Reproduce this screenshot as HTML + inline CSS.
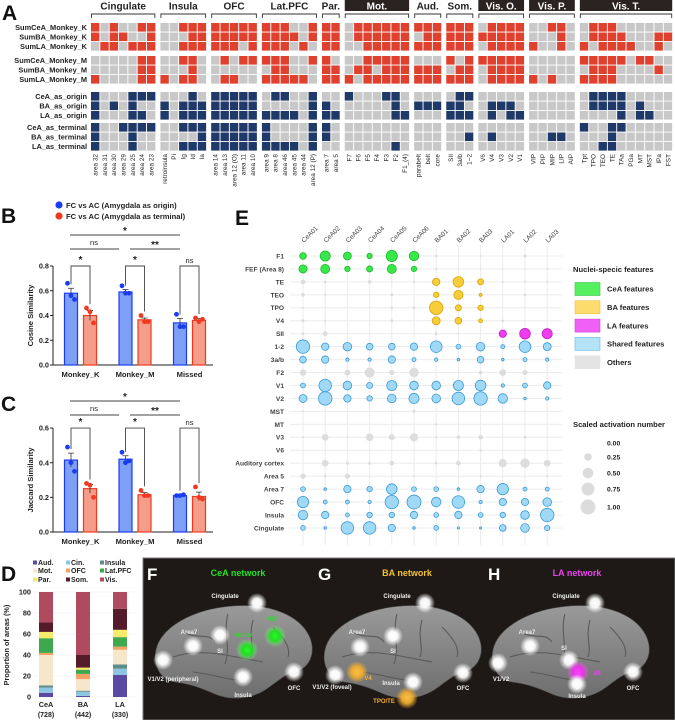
<!DOCTYPE html>
<html><head><meta charset="utf-8">
<style>
html,body{margin:0;padding:0;background:#fff;}
svg{display:block;font-family:"Liberation Sans",Arial,sans-serif;}
</style></head>
<body>
<svg id="fig" width="675" height="720" viewBox="0 0 675 720" xmlns="http://www.w3.org/2000/svg">
<defs>
<radialGradient id="glowW"><stop offset="0" stop-color="#fff" stop-opacity="1"/><stop offset="0.45" stop-color="#fff" stop-opacity="0.95"/><stop offset="1" stop-color="#fff" stop-opacity="0"/></radialGradient>
<radialGradient id="glowG"><stop offset="0" stop-color="#20ff20"/><stop offset="0.45" stop-color="#20e020" stop-opacity="0.95"/><stop offset="1" stop-color="#80ff80" stop-opacity="0"/></radialGradient>
<radialGradient id="glowY"><stop offset="0" stop-color="#ffc040"/><stop offset="0.5" stop-color="#f5b030" stop-opacity="0.9"/><stop offset="1" stop-color="#f5b030" stop-opacity="0"/></radialGradient>
<radialGradient id="glowM"><stop offset="0" stop-color="#ff40ff"/><stop offset="0.5" stop-color="#ee30ee" stop-opacity="0.9"/><stop offset="1" stop-color="#ff60ff" stop-opacity="0"/></radialGradient>
<linearGradient id="brainG" x1="0" y1="0" x2="0" y2="1"><stop offset="0" stop-color="#9a9a9a"/><stop offset="1" stop-color="#6e6e6e"/></linearGradient>
</defs>
<g id="panelA"></g>
<g id="panelB"></g>
<g id="panelC"></g>
<g id="panelD"></g>
<g id="panelE"></g>
<g id="panelF"></g>
</svg>
<script>
const NS="http://www.w3.org/2000/svg";
function mk(parent,tag,attrs,text){const e=document.createElementNS(NS,tag);for(const k in attrs)e.setAttribute(k,attrs[k]);if(text!==undefined)e.textContent=text;parent.appendChild(e);return e;}

/* ================= PANEL A data ================= */
const aGroups=["Cingulate","Insula","OFC","Lat.PFC","Par.","Mot.","Aud.","Som.","Vis. O.","Vis. P.","Vis. T."];
const aGroupCounts=[7,5,5,6,2,7,3,3,5,5,10];
const aGroupDark=[0,0,0,0,0,1,0,0,1,1,1];
const aColLabels=["area 32","area 31","area 30","area 29","area 25","area 24","area 23","retroinsula","Pi","Ig","Id","Ia","area 14","area 13","area 12 (O)","area 11","area 10","area 9","area 8","area 46","area 45","area 44","area 12 (P)","area 7","area 5","F7","F6","F5","F4","F3","F2","F1_(4)","parabelt","belt","core","SII","3a/b","1~2","V6","V4","V3","V2","V1","VIP","PIP","MIP","LIP","AIP","Tpt","TPO","TEO","TE","TAa","PGa","MT","MST","IPa","FST"];
const aRowLabels=["SumCeA_Monkey_K","SumBA_Monkey_K","SumLA_Monkey_K","SumCeA_Monkey_M","SumBA_Monkey_M","SumLA_Monkey_M","CeA_as_origin","BA_as_origin","LA_as_origin","CeA_as_terminal","BA_as_terminal","LA_as_terminal"];
const aRows=[
"1010011 00111 11111 111001 11 0111111 111 111 01111 00110 0111000000",
"1011001 00011 11111 111101 11 0111111 011 111 11111 00010 0111100011",
"0110111 00111 11101 111010 11 0011111 111 111 01111 10010 1011110010",
"0000011 00110 01011 111001 10 0011111 000 101 11111 00000 1111101100",
"0000011 00010 00000 011000 11 0110111 111 011 01111 00000 0111000010",
"1000011 10110 01100 111110 11 1011111 111 111 01111 10100 1111000000",
"1000111 00010 11111 011001 00 1000110 000 011 00000 00000 0111100000",
"1010100 10111 11111 000001 10 0000010 111 110 01110 00000 0111101000",
"1000110 10111 11111 111101 11 0000011 000 111 01011 00000 0000101100",
"1001111 00111 11111 100001 10 0000000 000 000 00000 00000 1001100000",
"1000100 00001 11111 100001 10 0000000 000 001 01000 00110 0001000000",
"1000100 00111 11111 111101 00 0000010 000 000 00000 00000 0011000000"
];
/* ================= PANEL B/C data ================= */
const bcCats=["Monkey_K","Monkey_M","Missed"];
const cosOrigin=[0.58,0.59,0.34];
const cosTerminal=[0.40,0.365,0.36];
const cosOriginErr=[0.04,0.02,0.035];
const cosTerminalErr=[0.04,0.015,0.015];
const cosOriginPts=[[0.66,0.56,0.53],[0.64,0.58,0.58],[0.41,0.31,0.31]];
const cosTerminalPts=[[0.46,0.43,0.34],[0.40,0.35,0.35],[0.38,0.35,0.37]];
const cosTicks=[0,0.2,0.4,0.6,0.8];
const jacOrigin=[0.415,0.42,0.21];
const jacTerminal=[0.25,0.215,0.205];
const jacOriginErr=[0.04,0.02,0.005];
const jacTerminalErr=[0.025,0.012,0.025];
const jacOriginPts=[[0.49,0.40,0.35],[0.46,0.40,0.41],[0.21,0.21,0.215]];
const jacTerminalPts=[[0.28,0.27,0.20],[0.24,0.21,0.21],[0.26,0.20,0.19]];
const jacTicks=[0,0.2,0.4,0.6];
/* ================= PANEL D data ================= */
const dCats=["CeA","BA","LA"];
const dCounts=["(728)","(442)","(330)"];
const dSeries=["Aud.","Cin.","Insula","Mot.","OFC","Lat.PFC","Par.","Som.","Vis."];
const dAud=[4,1,21];
const dCin=[5,4,6];
const dIns=[2,1,4];
const dMot=[29,11,14];
const dOFC=[2,5,3];
const dLat=[14,4,9];
const dPar=[6,2,7];
const dSom=[9,12,20];
const dVis=[29,60,16];
const dTicks=[0,20,40,60,80,100];
/* ================= PANEL E data ================= */
const eCols=["CeA01","CeA02","CeA03","CeA04","CeA05","CeA06","BA01","BA02","BA03","LA01","LA02","LA03"];
const eRows=["F1","FEF (Area 8)","TE","TEO","TPO","V4","SII","1-2","3a/b","F2","V1","V2","MST","MT","V3","V6","Auditory cortex","Area 5","Area 7","OFC","Insula","Cingulate"];
const eRowType=["CeA","CeA","BA","BA","BA","BA","LA","S","S","O","S","S","O","O","O","O","O","O","S","S","S","S"];
const eValues=[
[0.2,0.45,0.28,0.13,0.55,0.4,0.03,0,0.02,0,0.04,0],
[0.3,0.36,0.13,0.16,0.36,0.13,0.02,0.01,0.01,0.01,0.01,0.02],
[0.1,0.03,0,0.06,0.01,0.02,0.24,0.5,0.16,0.02,0.02,0.02],
[0.06,0.02,0,0,0.04,0,0.13,0.36,0.04,0,0.04,0],
[0.02,0,0,0,0.04,0.04,0.8,0.16,0.13,0,0,0],
[0.04,0.02,0,0,0.04,0,0.28,0.2,0.07,0.03,0,0],
[0.04,0.1,0,0,0,0,0.04,0.02,0,0.24,0.5,0.45],
[0.8,0.24,0.33,0.2,0.2,0.24,0.6,0.1,0.33,0.07,0.6,0.28],
[0.2,0.24,0.05,0.05,0.24,0.07,0.05,0.03,0.2,0.03,0.07,0.05],
[0.2,0,0.16,0.45,0.12,0.4,0,0,0.06,0.2,0.12,0],
[0.1,0.7,0.33,0.16,0.45,0.33,0.33,0.45,0.5,0.05,0.1,0.24],
[0.28,0.8,0.24,0.13,0.33,0.45,0.33,0.7,0.8,0.4,0.03,0.05],
[0.02,0,0,0,0,0.04,0,0,0,0,0,0],
[0,0,0,0,0,0,0.02,0,0,0,0,0],
[0.02,0.2,0.02,0.26,0.16,0.3,0.02,0.06,0.1,0,0.04,0],
[0,0,0,0,0,0,0,0,0.03,0,0,0],
[0,0.2,0.04,0.04,0.1,0,0.03,0.1,0,0.3,0.4,0.2],
[0.13,0.03,0.13,0,0,0.02,0,0,0.02,0,0,0.02],
[0.1,0.03,0.24,0.13,0.5,0.1,0.1,0.03,0.24,0.57,0.07,0.07],
[0.57,0.07,0.07,0.05,0.8,0.87,0.4,0.7,0.05,0.24,0.24,0.33],
[0.4,0.24,0.07,0.13,0.13,0.24,0.1,0.24,0.1,0.13,0.33,0.8],
[0.1,0.03,0.7,0.7,0.24,0.03,0.1,0.02,0.02,0.2,0.33,0.13]
];
const eSizeTicks=[0,0.25,0.5,0.75,1.0];

/* ================= draw A ================= */
(function(){
const g=document.getElementById('panelA');
const lt=mk(g,'text',{x:2,y:20,'font-size':21,'font-weight':'bold',fill:'#111'},'A');


const x0=91,pitch=9.33,gap=4.1,cw=8.4,ch=8.6,rp=9.5;
const rowTops=[23,32.5,42,56,65.5,75,92,101.5,111,123,132.5,142];
const colX=[];let gi=0,x=x0;
aGroupCounts.forEach((n,i)=>{const gs=x;for(let k=0;k<n;k++){colX.push(x);x+=pitch;}
 const ge=x-pitch+cw;const cx=(gs+ge)/2;
 if(aGroupDark[i]){const r=mk(g,'rect',{x:gs,y:0,width:ge-gs,height:11,fill:'#2b2222'});
  
  }
 const t=mk(g,'text',{x:cx,y:9.5,'font-size':10,'font-weight':'bold','text-anchor':'middle',fill:aGroupDark[i]?'#fff':'#222'},aGroups[i]);
 
 
 const b=mk(g,'path',{d:`M${gs+0.5},18 V14 H${ge-0.5} V18`,stroke:'#333','stroke-width':0.9,fill:'none'});
 
 
 x+=gap;});
aRowLabels.forEach((lab,r)=>{
 const t=mk(g,'text',{x:87,y:rowTops[r]+7,'font-size':7.4,'font-weight':'bold','text-anchor':'end',fill:'#222'},lab);
 
 
 const bits=aRows[r].replace(/ /g,'');
 const on=r<6?'#e0402e':'#1f3a68';
 for(let c=0;c<colX.length;c++){
  const cell=mk(g,'rect',{x:colX[c],y:rowTops[r],width:cw,height:ch,fill:bits[c]==='1'?on:'#c8c8c8'});
  
  
 }});
aColLabels.forEach((lab,c)=>{const cx=colX[c]+cw/2+2.3;
 const t=mk(g,'text',{x:cx,y:154,'font-size':6.4,'text-anchor':'end',fill:'#222',transform:`rotate(-90 ${cx} 154)`},lab);
 
 });
})();

/* ================= draw B/C ================= */
function barChart(g,cfg){
 const yS=v=>cfg.y0-v*cfg.k;
 const ax=mk(g,'path',{d:`M53,${yS(cfg.ticks[cfg.ticks.length-1])} V${cfg.y0} H213`,stroke:'#222','stroke-width':1,fill:'none'});
 
 
 cfg.ticks.forEach(t=>{const y=yS(t);mk(g,'line',{x1:50,x2:53,y1:y,y2:y,stroke:'#222'});
  const tl=mk(g,'text',{x:49,y:y+2.6,'font-size':7.3,'font-weight':'bold','text-anchor':'end',fill:'#222'},t.toFixed(1));
  
  });
 const yt=mk(g,'text',{x:33,y:(cfg.y0+yS(cfg.ticks[cfg.ticks.length-1]))/2,'font-size':7.6,'font-weight':'bold','text-anchor':'middle',fill:'#222',transform:`rotate(-90 33 ${(cfg.y0+yS(cfg.ticks[cfg.ticks.length-1]))/2})`},cfg.title);
 
 
 const centers=[80.5,135,189.5];
 bcCats.forEach((c,i)=>{
  const cl=mk(g,'text',{x:centers[i],y:cfg.y0+12,'font-size':7.6,'font-weight':'bold','text-anchor':'middle',fill:'#222'},c);
  
  
  [[cfg.o,cfg.oe,cfg.op,-9.5,'#7e9ff6','#1a3cf0'],[cfg.t,cfg.te,cfg.tp,9.5,'#f59d8b','#f03a20']].forEach(s=>{
   const cx=centers[i]+s[3];const v=s[0][i];
   const bar=mk(g,'rect',{x:cx-6.5,y:yS(v),width:13,height:cfg.y0-yS(v),fill:s[4],stroke:s[5],'stroke-width':1.2});
   
   
   const e=s[1][i];
   mk(g,'path',{d:`M${cx},${yS(v-e)} V${yS(v+e)} M${cx-3},${yS(v+e)} H${cx+3}`,stroke:'#333','stroke-width':0.8,fill:'none'});
   s[2][i].forEach((p,j)=>{const d=mk(g,'circle',{cx:cx+(j-1)*3.5,cy:yS(p),r:2.4,fill:s[5]});
    
    });
  });
  const top=yS(cfg.ticks[cfg.ticks.length-1]);
  const l=centers[i]-9.5,r=centers[i]+9.5;
  mk(g,'path',{d:`M${l},${yS(cfg.o[i]+cfg.oe[i])-4} V${top} H${r} V${yS(Math.max(...cfg.tp[i]))-4}`,stroke:'#444','stroke-width':0.9,fill:'none'});
  const sl=mk(g,'text',{x:centers[i],y:top-3,'font-size':i==2?7.5:10,'font-weight':i==2?'normal':'bold','text-anchor':'middle',fill:'#222'},i==2?'ns':'*');
  
  
 });
 const s=cfg.sig;
 mk(g,'line',{x1:70,x2:180,y1:s,y2:s,stroke:'#444','stroke-width':0.9});
 mk(g,'text',{x:125,y:s-1,'font-size':10,'font-weight':'bold','text-anchor':'middle',fill:'#222'},'*');
 mk(g,'line',{x1:70,x2:119,y1:s+14,y2:s+14,stroke:'#444','stroke-width':0.9});
 mk(g,'line',{x1:130,x2:180,y1:s+14,y2:s+14,stroke:'#444','stroke-width':0.9});
 mk(g,'text',{x:94,y:s+10,'font-size':7.5,'text-anchor':'middle',fill:'#222'},'ns');
 mk(g,'text',{x:155,y:s+13,'font-size':10,'font-weight':'bold','text-anchor':'middle',fill:'#222'},'**');
}
(function(){
const g=document.getElementById('panelB');
const l=mk(g,'text',{x:1,y:223,'font-size':21,'font-weight':'bold',fill:'#111'},'B');


[['FC vs AC (Amygdala as origin)','#1a3cf0',205],['FC vs AC (Amygdala as terminal)','#f03a20',216]].forEach(it=>{
 const lg=mk(g,'g',{});
 
 
 mk(lg,'circle',{cx:59,cy:it[2],r:3.6,fill:it[1]});
 mk(lg,'text',{x:66,y:it[2]+2.8,'font-size':7.6,'font-weight':'bold',fill:'#222'},it[0]);});
barChart(g,{y0:365,k:123.75,ticks:cosTicks,title:'Cosine Similarity',o:cosOrigin,t:cosTerminal,oe:cosOriginErr,te:cosTerminalErr,op:cosOriginPts,tp:cosTerminalPts,sig:235});
const gc=document.getElementById('panelC');
const lc=mk(gc,'text',{x:1,y:411,'font-size':21,'font-weight':'bold',fill:'#111'},'C');


barChart(gc,{y0:532,k:173.3,ticks:jacTicks,title:'Jaccard Similarity',o:jacOrigin,t:jacTerminal,oe:jacOriginErr,te:jacTerminalErr,op:jacOriginPts,tp:jacTerminalPts,sig:401});
})();

/* ================= draw D ================= */
(function(){
const g=document.getElementById('panelD');
const l=mk(g,'text',{x:1,y:581,'font-size':21,'font-weight':'bold',fill:'#111'},'D');


const cols=['#5a4aa3','#8ec5e2','#5d8d88','#f6e7cb','#f3a166','#3ea84c','#f5ea6a','#541b2a','#b04a5e'];
const series=[dAud,dCin,dIns,dMot,dOFC,dLat,dPar,dSom,dVis];
const legPos=[[35,563],[68,563],[102,563],[35,571],[68,571],[102,571],[35,580],[68,580],[102,580]];
dSeries.forEach((n,i)=>{const lg=mk(g,'g',{});
 
 
 mk(lg,'rect',{x:legPos[i][0]-2,y:legPos[i][1]-2.5,width:4,height:4,fill:cols[i]});
 mk(lg,'text',{x:legPos[i][0]+3,y:legPos[i][1]+2,'font-size':7,'font-weight':'bold',fill:'#222'},n);});
const yS=v=>697-v*1.05;
dTicks.forEach(t=>{mk(g,'line',{x1:33,x2:135,y1:yS(t),y2:yS(t),stroke:'#eee','stroke-width':0.6});
 const tl=mk(g,'text',{x:31,y:yS(t)+2.6,'font-size':7.3,'font-weight':'bold','text-anchor':'end',fill:'#222'},t);
 
 });
const yt=mk(g,'text',{x:9,y:645,'font-size':7.3,'font-weight':'bold','text-anchor':'middle',fill:'#222',transform:'rotate(-90 9 645)'},'Proportion of areas (%)');


const centers=[46,83,120];
dCats.forEach((c,i)=>{let acc=0;
 series.forEach((s,j)=>{const v=s[i];
  const r=mk(g,'rect',{x:centers[i]-7,y:yS(acc+v),width:14,height:v*1.05,fill:cols[j]});
  
  
  acc+=v;});
 const t1=mk(g,'text',{x:centers[i],y:707,'font-size':7.3,'font-weight':'bold','text-anchor':'middle',fill:'#222'},c);
 
 
 mk(g,'text',{x:centers[i],y:717,'font-size':7,'font-weight':'bold','text-anchor':'middle',fill:'#222'},dCounts[i]);});
})();

/* ================= draw E ================= */
(function(){
const g=document.getElementById('panelE');
const l=mk(g,'text',{x:235,y:225,'font-size':21,'font-weight':'bold',fill:'#111'},'E');


const xS=i=>303+i*22.2, yS=j=>256+j*12.95, rS=v=>7.5*Math.sqrt(v);
eCols.forEach((c,i)=>{mk(g,'line',{x1:xS(i),x2:xS(i),y1:245,y2:545,stroke:'#ececec','stroke-width':1});});
eRows.forEach((r,j)=>{mk(g,'line',{x1:290,x2:562,y1:yS(j),y2:yS(j),stroke:'#ececec','stroke-width':1});
 const t=mk(g,'text',{x:284,y:yS(j)+2.4,'font-size':6.6,'font-weight':'bold','text-anchor':'end',fill:'#444'},r);
 
 });
eCols.forEach((c,i)=>{const x=xS(i)+1,y=243;
 const t=mk(g,'text',{x:x,y:y,'font-size':6.6,fill:'#444',transform:`rotate(-45 ${x} ${y})`},c);
 
 });
const pal={CeA:['#38e84a','#1fb830'],BA:['#f8cd3a','#d9a300'],LA:['#ee3cee','#c01fc0'],S:['#9fd9f5','#3a9ad8'],O:['#dddddd','none']};
eValues.forEach((row,j)=>row.forEach((v,i)=>{
 if(v<=0)return;
 const grp=eCols[i].replace(/\d+/,'');
 let t=eRowType[j];
 if((t==='CeA'||t==='BA'||t==='LA')&&t!==grp)t='O';
 const p=pal[t];
 const c=mk(g,'circle',{cx:xS(i),cy:yS(j),r:rS(v),fill:p[0],stroke:p[1],'stroke-width':0.8});
 
 }));
const t1=mk(g,'text',{x:573,y:272,'font-size':7.6,'font-weight':'bold',fill:'#222'},'Nuclei-specic features');


[['CeA features','#55f060','#3ac848'],['BA features','#fcdc6c','#e8c040'],['LA features','#f060f4','#d048d8'],['Shared features','#b4e2f7','#6ab6e4'],['Others','#e4e4e4','#e4e4e4']].forEach((it,k)=>{
 const y=289+k*18.3;const lg=mk(g,'g',{});
 
 
 mk(lg,'rect',{x:575,y:y-6.5,width:25,height:13,fill:it[1],stroke:it[2],'stroke-width':0.6});
 mk(lg,'text',{x:607,y:y+2.7,'font-size':7.6,'font-weight':'bold',fill:'#222'},it[0]);});
const t2=mk(g,'text',{x:573,y:427,'font-size':7.6,'font-weight':'bold',fill:'#222'},'Scaled activation number');


const ly=[443,457,473,489,507];
eSizeTicks.forEach((v,k)=>{const lg=mk(g,'g',{});
 
 
 if(v>0)mk(lg,'circle',{cx:588,cy:ly[k],r:rS(v),fill:'#dcdcdc'});
 mk(lg,'text',{x:607,y:ly[k]+2.6,'font-size':6.8,'font-weight':'bold',fill:'#222'},v.toFixed(2));});
})();

/* ================= draw F-H ================= */
(function(){
const g=document.getElementById('panelF');
const bg=mk(g,'rect',{x:143,y:558,width:532,height:162,fill:'#1e1917',stroke:'#777','stroke-width':1});


const panels=[
 {L:'F',lx:147,title:'CeA network',tc:'#22e022',tx:238,bx:153,
  spots:[[257,603,'W'],[193,646,'W'],[220,635,'W'],[247,650,'G'],[275,636,'G'],[163,660,'W'],[243,677,'W'],[294,672,'W']],
  labels:[['Cingulate',225,598,'#eee'],['Area7',189,634,'#eee'],['SI',220,653,'#eee'],['Motor',244,637,'#22e022'],['FEF',272,621,'#22e022'],['V1/V2 (peripheral)',173,681,'#eee'],['Insula',243,697,'#eee'],['OFC',294,690,'#eee']]},
 {L:'G',lx:318,title:'BA network',tc:'#f5c030',tx:407,bx:322,
  spots:[[425,603,'W'],[360,647,'W'],[393,636,'W'],[335,675,'W'],[357,672,'Y'],[413,682,'W'],[463,673,'W'],[407,698,'Y']],
  labels:[['Cingulate',397,598,'#eee'],['Area7',357,634,'#eee'],['SI',393,653,'#eee'],['V1/V2 (foveal)',332,689,'#eee'],['V4',368,680,'#f5b030'],['Insula',391,685,'#eee'],['OFC',463,690,'#eee'],['TPO/TE',384,703,'#f5b030']]},
 {L:'H',lx:488,title:'LA network',tc:'#ee40ee',tx:577,bx:490,
  spots:[[595,603,'W'],[530,646,'W'],[569,660,'W'],[498,663,'W'],[578,672,'M'],[577,684,'W'],[633,672,'W']],
  labels:[['Cingulate',566,598,'#eee'],['Area7',527,634,'#eee'],['SI',564,650,'#eee'],['V1/V2',501,681,'#eee'],['SII',597,675,'#ee40ee'],['Insula',577,698,'#eee'],['OFC',633,690,'#eee']]}
];
panels.forEach(p=>{
 const L=mk(g,'text',{x:p.lx,y:580,'font-size':17,'font-weight':'bold',fill:'#fff'},p.L);
 
 
 const T=mk(g,'text',{x:p.tx,y:576,'font-size':9,'font-weight':'bold','text-anchor':'middle',fill:p.tc},p.title);
 
 
 const bx=p.bx,by=602;
 const brain=mk(g,'path',{d:`M${bx+3},${by+48} C${bx+8},${by+25} ${bx+40},${by+7} ${bx+80},${by+4} C${bx+118},${by+1} ${bx+148},${by+14} ${bx+157},${by+36} C${bx+163},${by+52} ${bx+156},${by+66} ${bx+142},${by+70} C${bx+130},${by+73} ${bx+124},${by+80} ${bx+112},${by+88} C${bx+96},${by+98} ${bx+76},${by+98} ${bx+62},${by+92} C${bx+48},${by+86} ${bx+38},${by+82} ${bx+22},${by+80} C${bx+6},${by+77} ${bx},${by+62} ${bx+3},${by+48} Z`,fill:'url(#brainG)',stroke:'#555','stroke-width':0.6});
 
 
 mk(g,'path',{d:`M${bx+20},${by+55} C${bx+50},${by+45} ${bx+80},${by+55} ${bx+110},${by+60} M${bx+75},${by+12} C${bx+70},${by+30} ${bx+78},${by+45} ${bx+72},${by+62} M${bx+100},${by+18} C${bx+95},${by+35} ${bx+102},${by+45} ${bx+98},${by+55} M${bx+30},${by+30} C${bx+45},${by+38} ${bx+55},${by+30} ${bx+62},${by+40} M${bx+120},${by+25} C${bx+130},${by+35} ${bx+138},${by+45} ${bx+135},${by+55} M${bx+40},${by+70} C${bx+60},${by+72} ${bx+80},${by+80} ${bx+95},${by+78}`,stroke:'#5a5a5a','stroke-width':1.1,fill:'none'});
 p.spots.forEach(s=>{const c=mk(g,'circle',{cx:s[0],cy:s[1],r:s[2]==='W'?10:11,fill:`url(#glow${s[2]})`});
  
  });
 p.labels.forEach(t=>{const e=mk(g,'text',{x:t[1],y:t[2],'font-size':6,'font-weight':'bold','text-anchor':'middle',fill:t[3]},t[0]);
  
  });
});
})();
</script>
</body></html>
